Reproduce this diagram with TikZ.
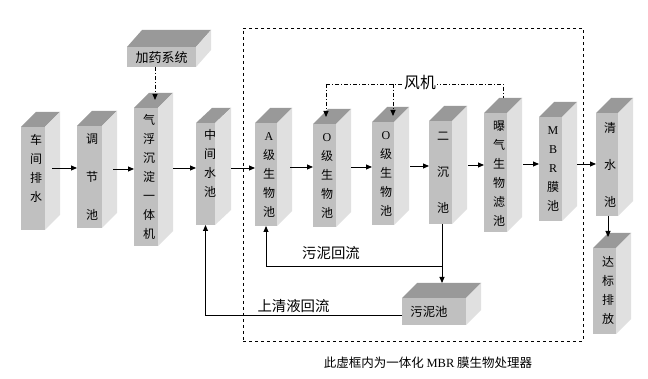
\documentclass[tikz,border=0pt]{standalone}
\usepackage{fontspec}
\setmainfont{Liberation Serif}
\newfontfamily\cjk{Noto Sans CJK SC}
\usetikzlibrary{arrows.meta,fit}
\definecolor{topc}{HTML}{999999}
\definecolor{frontc}{HTML}{C0C0C0}
\definecolor{sidec}{HTML}{E0E0E0}
\newcommand\mkcube[7]{%
  \fill[topc] (#2,#3) -- ++(#6,-#7) -- ({#4+#6},{#3-#7}) -- (#4,#3) -- cycle;
  \fill[sidec] (#4,#3) -- ({#4+#6},{#3-#7}) -- ({#4+#6},{#5-#7}) -- (#4,#5) -- cycle;
  \node[fit={(#2,#3) (#4,#5)}, inner sep=0pt, outer sep=0pt, fill=frontc] (#1) {};
}
\newcommand\lat[1]{{\rmfamily #1}}
\tikzset{
  arr/.style={-{Triangle[length=6pt,width=5pt]}, line width=0.9pt},
  ln/.style={line width=0.9pt},
  dd/.style={dash pattern=on 4pt off 2pt on 1pt off 2pt, line width=0.9pt},
  boxtxt/.style={font=\cjk\fontsize{12}{19}\selectfont, align=center, inner sep=0pt},
  lbl/.style={font=\cjk\fontsize{14.4}{17}\selectfont, inner sep=0pt},
}
\begin{document}
\begin{tikzpicture}[x=1pt,y=-1pt]
\fill[white] (0,0) rectangle (648,379);
\useasboundingbox (0,0) rectangle (648,379);
% dashed frame
\node[draw, dashed, line width=0.9pt, fit={(243,28) (583,341)}, inner sep=0pt] (frame) {};
% boxes
\mkcube{cj}{21}{127}{45}{230}{15}{15}
\mkcube{tj}{77}{126}{102}{228}{15}{15}
\mkcube{qf}{134}{108}{158}{246}{15}{15}
\mkcube{zj}{196}{123}{215}{225}{16}{15}
\mkcube{ab}{255}{123}{277}{226}{15}{15}
\mkcube{oa}{313}{124}{336}{227}{15}{15}
\mkcube{ob}{372}{122}{394}{225}{15}{15}
\mkcube{ec}{429}{121}{452}{224}{15}{15}
\mkcube{pq}{484}{113}{507}{232}{15}{15}
\mkcube{mb}{539}{117}{562}{221}{15}{15}
\mkcube{qs}{596}{113}{618}{216}{15}{15}
\mkcube{db}{593}{248}{616}{334}{15}{15}
\mkcube{jy}{127}{47}{196}{67}{15}{17}
\mkcube{wn}{402}{298}{466}{325}{15}{15}
% box texts
\node[boxtxt] (tcj) at (36,168.5) {车\\间\\排\\水};
\node[boxtxt] (ttj) at (92,177) {调\\[19pt]节\\[19pt]池};
\node[boxtxt] (tqf) at (149,177) {气\\浮\\沉\\淀\\一\\体\\机};
\node[boxtxt] (tzj) at (210,163.5) {中\\间\\水\\池};
\node[boxtxt] (tab) at (269,174.5) {\lat{A}\\级\\生\\物\\池};
\node[boxtxt] (toa) at (327,175.5) {\lat{O}\\级\\生\\物\\池};
\node[boxtxt] (tob) at (386,173.5) {\lat{O}\\级\\生\\物\\池};
\node[boxtxt] (tec) at (443,173) {二\\[17pt]沉\\[17pt]池};
\node[boxtxt] (tpq) at (499,174) {曝\\气\\生\\物\\滤\\池};
\node[boxtxt] (tmb) at (553,169) {\lat{M}\\\lat{B}\\\lat{R}\\膜\\池};
\node[boxtxt] (tqs) at (610,165) {清\\[18pt]水\\[18pt]池};
\node[boxtxt] (tdb) at (608,290) {达\\标\\排\\放};
\node[font=\cjk\fontsize{13}{15}\selectfont, inner sep=0pt] (tjy) at (161.5,58) {加药系统};
\node[font=\cjk\fontsize{12.4}{15}\selectfont, inner sep=0pt] (twn) at (429,312) {污泥池};
% outlet coordinates
\coordinate (o1) at (52,168);
\coordinate (o2) at (113,169);
\coordinate (o3) at (173,168);
\coordinate (o4) at (231,168);
\coordinate (o5) at (290,167);
\coordinate (o6) at (351,167);
\coordinate (o7) at (410,166);
\coordinate (o8) at (468,165);
\coordinate (o9) at (523,164);
\coordinate (o10) at (577,164);
\draw[arr] (o1) -- (o1 -| tj.west);
\draw[arr] (o2) -- (o2 -| qf.west);
\draw[arr] (o3) -- (o3 -| zj.west);
\draw[arr] (o4) -- (o4 -| ab.west);
\draw[arr] (o5) -- (o5 -| oa.west);
\draw[arr] (o6) -- (o6 -| ob.west);
\draw[arr] (o7) -- (o7 -| ec.west);
\draw[arr] (o8) -- (o8 -| pq.west);
\draw[arr] (o9) -- (o9 -| mb.west);
\draw[arr] (o10) -- (o10 -| qs.west);
% vertical arrows
\coordinate (qfin) at (155,100);
\draw[arr,dd] (qfin |- jy.south) -- (qfin);
\coordinate (dbin) at (608,237);
\draw[arr] (dbin |- qs.south) -- (dbin);
\coordinate (wnin) at (442,283);
\draw[arr] (wnin |- ec.south) -- (wnin);
\coordinate (j1) at (442,266);
\draw[arr] (j1) -| (ab.south);
\coordinate (wnout) at (402,315);
\draw[arr] (wnout) -| (zj.south);
% fan lines
\coordinate (f1) at (326,84);
\coordinate (f2) at (503,84);
\coordinate (f3) at (393,84);
\coordinate (f2b) at (503,98);
\coordinate (oain) at (326,117);
\coordinate (obin) at (393,116);
\draw[dd] (f1) -- (f2) -- (f2b);
\draw[arr,dd] (f1) -- (oain);
\draw[arr,dd] (f3) -- (obin);
\node[font=\cjk\fontsize{15.8}{18}\selectfont, fill=white, inner sep=1.5pt] (fj) at (420,83) {风机};
% labels
\node[lbl] (lwn) at (331,253) {污泥回流};
\node[lbl] (lsq) at (293.5,306) {上清液回流};
\node[font=\cjk\fontsize{12.5}{15}\selectfont, inner sep=0pt] (cap) at (428,363) {此虚框内为一体化 \lat{MBR} 膜生物处理器};
\end{tikzpicture}
\end{document}
